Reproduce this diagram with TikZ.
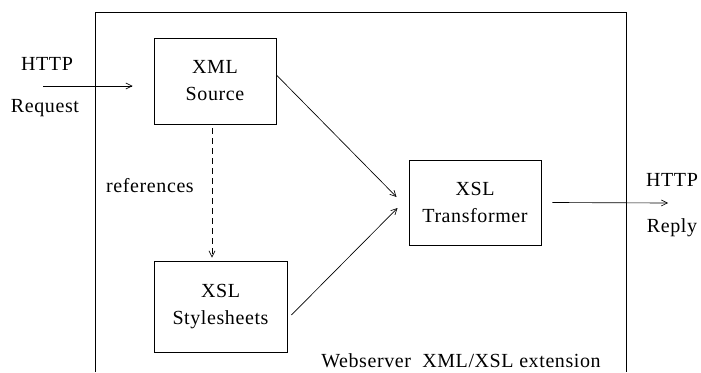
\documentclass[tikz,border=0pt]{standalone}
\usepackage{fontspec}
\setmainfont{Liberation Serif}[LetterSpace=3]
\usetikzlibrary{arrows.meta}
\begin{document}
\begin{tikzpicture}[x=1pt,y=-1pt,
  every node/.style={font=\fontsize{20}{27}\selectfont},
  boxnode/.style={draw, line width=0.9pt, inner sep=0pt, align=center},
  conn/.style={line width=0.65pt, -{Straight Barb[length=6pt,width=6pt]}},
  lbl/.style={inner sep=0pt}]
\useasboundingbox (0,0) rectangle (701,372);
% outer webserver frame (bottom edge outside the picture)
\draw[line width=1pt] (95,372) -- (95,12) -- (626,12) -- (626,372);
\node[lbl] (ext) at (461,361) {Webserver\ \ XML/XSL extension};
% boxes
\node[boxnode, minimum width=122pt, minimum height=86pt] (src) at (215,81) {XML\\Source};
\node[boxnode, minimum width=133pt, minimum height=91pt] (sty) at (220.5,306.5) {XSL\\Stylesheets};
\node[boxnode, minimum width=132pt, minimum height=85pt] (tr) at (475,202.5) {XSL\\Transformer};
% labels
\node[lbl] (hreq) at (47,64) {HTTP};
\node[lbl] (req) at (45,108) {Request};
\node[lbl] (hrep) at (672,180) {HTTP};
\node[lbl] (rep) at (672,228) {Reply};
\node[lbl] (refs) at (150,186) {references};
% connectors
\coordinate (in) at (43,86);
\coordinate (out) at (668,203);
\draw[conn] (in) -- ([xshift=-21pt,yshift=-5pt]src.west);
\draw[conn, dash pattern=on 6pt off 4pt] ([xshift=-3pt,yshift=-4pt]src.south) -- ([xshift=-8.5pt,yshift=3pt]sty.north);
\draw[conn] ([yshift=6pt]src.east) -- ([xshift=-12pt,yshift=5.5pt]tr.west);
\draw[conn] ([xshift=4pt,yshift=-8.5pt]sty.east) -- ([xshift=-11pt,yshift=-5.5pt]tr.west);
\draw[conn] ([xshift=11pt]tr.east) -- (out);
\end{tikzpicture}
\end{document}
